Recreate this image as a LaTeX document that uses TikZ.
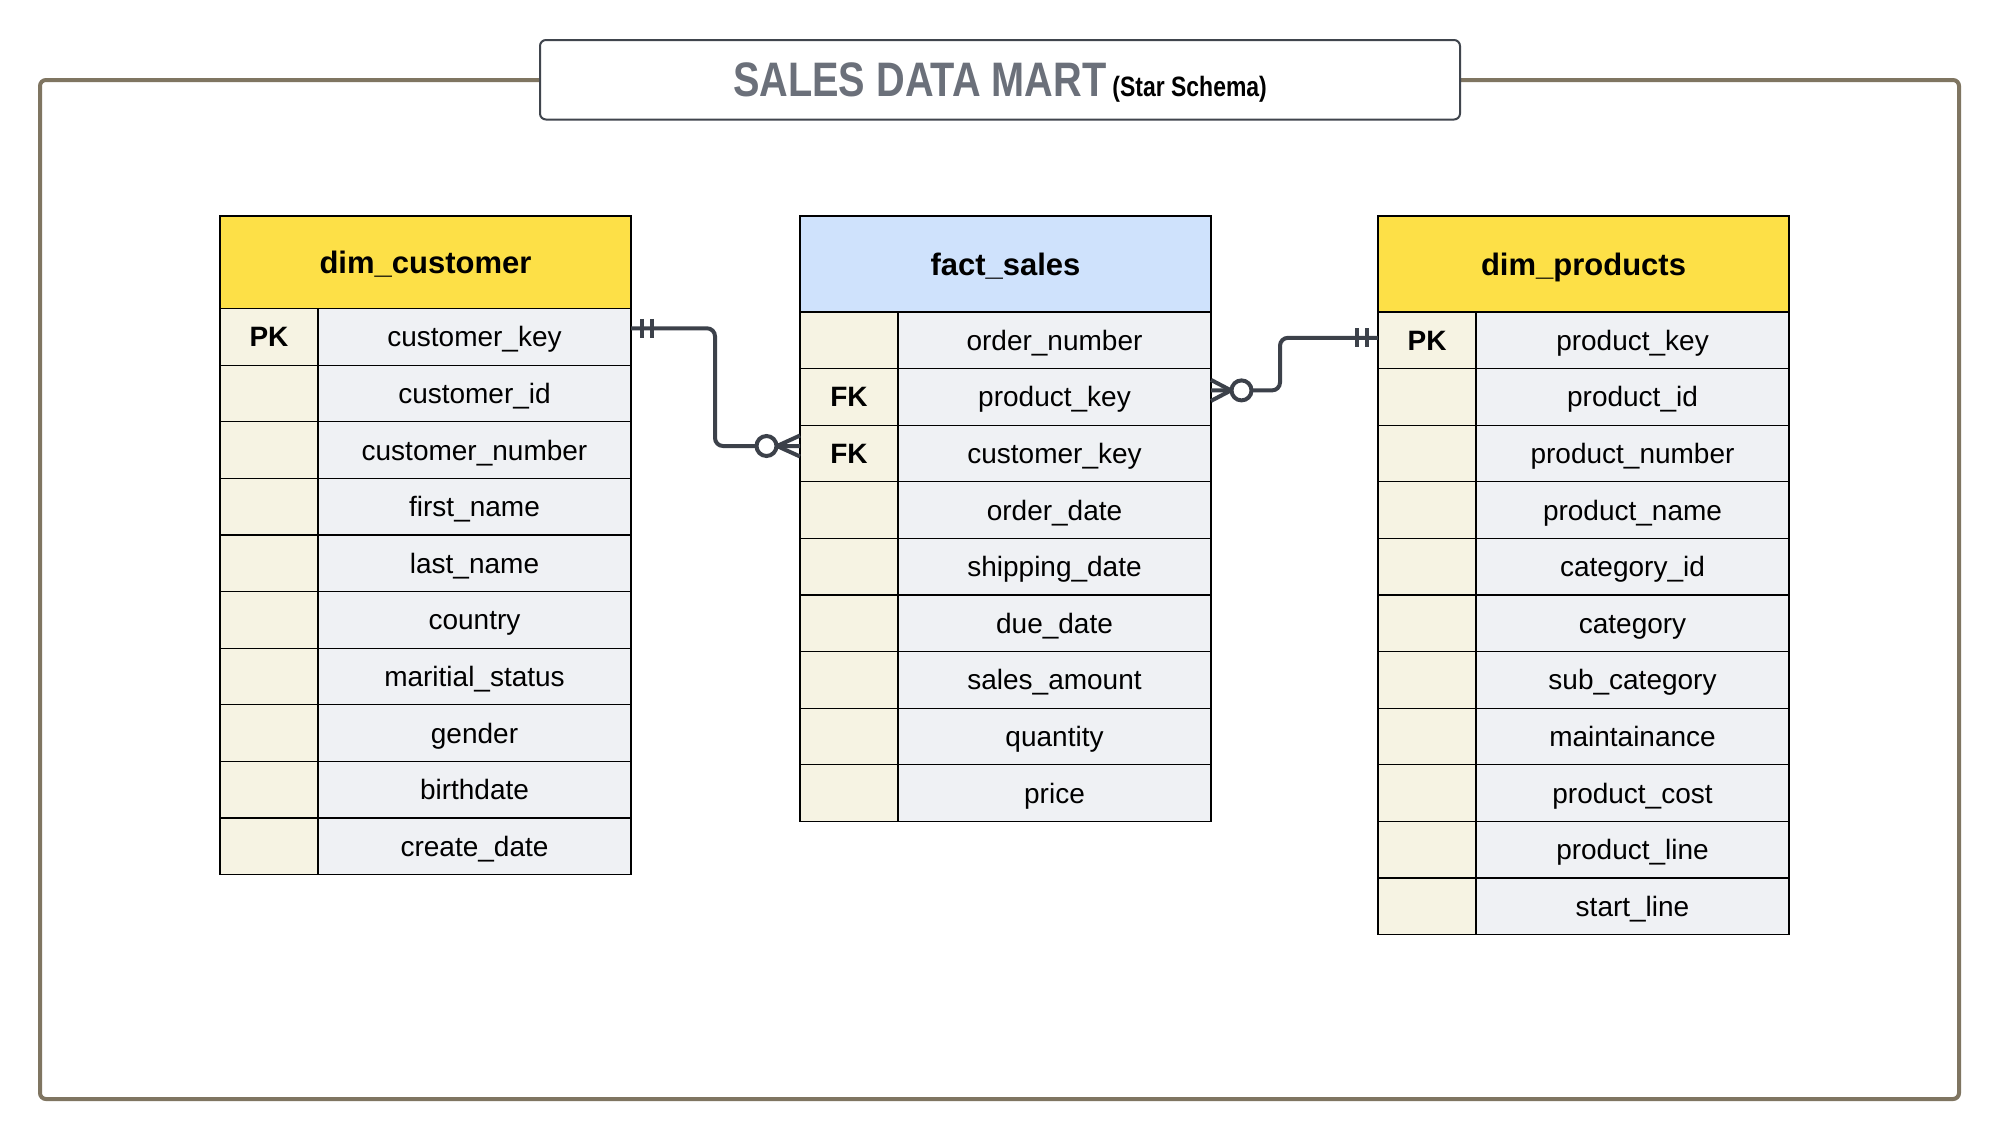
\documentclass[tikz,border=0pt]{standalone}
\usepackage{fontspec}
\setmainfont{Liberation Sans}
\newfontfamily\condfont[FakeStretch=0.82]{Liberation Sans}
\usetikzlibrary{calc}
\definecolor{frameC}{HTML}{7F7561}
\definecolor{titleB}{HTML}{40454D}
\definecolor{titleT}{HTML}{6B707A}
\definecolor{hdrY}{HTML}{FDE047}
\definecolor{hdrB}{HTML}{CFE2FC}
\definecolor{keyC}{HTML}{F6F3E3}
\definecolor{fldC}{HTML}{EFF1F4}
\definecolor{connC}{HTML}{3C414A}
\begin{document}
\begin{tikzpicture}[x=0.5pt,y=-0.5pt,
  tcell/.style={draw=black, line width=0.6pt, inner sep=0pt, outer sep=0pt, anchor=north west,
    text height=10pt, text depth=0pt, font=\fontsize{14}{17}\selectfont, text=black},
  keycell/.style={tcell, fill=keyC, minimum width=49pt, font=\bfseries\fontsize{14}{17}\selectfont},
  fldcell/.style={tcell, fill=fldC, minimum width=156.5pt},
  hdrcell/.style={tcell, minimum width=205.5pt, text height=11.2pt, font=\bfseries\fontsize{15.5}{18}\selectfont},
  conn/.style={draw=connC, line width=2pt},
  framebox/.style={draw=frameC, line width=2pt, rounded corners=3pt},
  titlebox/.style={draw=titleB, line width=1pt, fill=white, rounded corners=3pt, inner sep=0pt, outer sep=0pt}
]
\useasboundingbox (0,0) rectangle (2000,1140);
\fill[white] (0,0) rectangle (2000,1140);

% outer frame
\draw[framebox] (40,80) rectangle (1959,1099);
% title
\node[titlebox, minimum width=460pt, minimum height=39.75pt] (title) at (1000,79.75) {};
\node[anchor=base, inner sep=0pt] (titletext) at (1000,96.5)
  {{\condfont\bfseries\fontsize{24.2}{29}\selectfont\color{titleT}SALES DATA MART}\hspace{3pt}{\condfont\bfseries\fontsize{14}{17}\selectfont (Star Schema)}};

% dim_customer
\node[hdrcell, fill=hdrY, minimum height=46.25pt] (cust-h) at (220,216) {dim\_customer};
\foreach [count=\i] \k/\f in {PK/customer\_key, /customer\_id, /customer\_number, /first\_name, /last\_name, /country, /maritial\_status, /gender, /birthdate, /create\_date}{
  \node[keycell, minimum height=28.3pt] (cust-k-\i) at (220,{308.5+(\i-1)*56.6}) {\k};
  \node[fldcell, minimum height=28.3pt] (cust-f-\i) at (318,{308.5+(\i-1)*56.6}) {\f};
}

% fact_sales
\node[hdrcell, fill=hdrB, minimum height=48pt] (fact-h) at (800,216) {fact\_sales};
\foreach [count=\i] \k/\f in {/order\_number, FK/product\_key, FK/customer\_key, /order\_date, /shipping\_date, /due\_date, /sales\_amount, /quantity, /price}{
  \node[keycell, minimum height=28.3pt] (fact-k-\i) at (800,{312+(\i-1)*56.6}) {\k};
  \node[fldcell, minimum height=28.3pt] (fact-f-\i) at (898,{312+(\i-1)*56.6}) {\f};
}

% dim_products
\node[hdrcell, fill=hdrY, minimum height=48pt] (prod-h) at (1378,216) {dim\_products};
\foreach [count=\i] \k/\f in {PK/product\_key, /product\_id, /product\_number, /product\_name, /category\_id, /category, /sub\_category, /maintainance, /product\_cost, /product\_line, /start\_line}{
  \node[keycell, minimum height=28.3pt] (prod-k-\i) at (1378,{312+(\i-1)*56.6}) {\k};
  \node[fldcell, minimum height=28.3pt] (prod-f-\i) at (1476,{312+(\i-1)*56.6}) {\f};
}

% connector: dim_customer -> fact_sales
\coordinate (L0) at ([yshift=4.25pt]cust-f-1.east);
\coordinate (R0) at ([yshift=3.75pt]fact-k-3.west);
\coordinate (M0) at (715,0);
\draw[conn, rounded corners=4pt] (L0) -- (L0 -| M0) -- (M0 |- R0) -- (R0);
\draw[conn] ($(L0)+(10.5,-9.5)$) -- ($(L0)+(10.5,9.5)$);
\draw[conn] ($(L0)+(20.5,-9.5)$) -- ($(L0)+(20.5,9.5)$);
\draw[conn] ($(R0)+(0,-10.5)$) -- ($(R0)+(-23,0)$) -- ($(R0)+(0,10.5)$);
\draw[conn, fill=white] ($(R0)+(-33.5,0)$) circle[radius=5pt];

% connector: fact_sales -> dim_products
\coordinate (L1) at ([yshift=3.25pt]fact-f-2.east);
\coordinate (R1) at ([yshift=1.25pt]prod-k-1.west);
\coordinate (M1) at (1280,0);
\draw[conn, rounded corners=4pt] (L1) -- (L1 -| M1) -- (M1 |- R1) -- (R1);
\draw[conn] ($(L1)+(0,-10.5)$) -- ($(L1)+(20,0)$) -- ($(L1)+(0,10.5)$);
\draw[conn, fill=white] ($(L1)+(30.5,0)$) circle[radius=5pt];
\draw[conn] ($(R1)+(-21,-9.5)$) -- ($(R1)+(-21,9.5)$);
\draw[conn] ($(R1)+(-11,-9.5)$) -- ($(R1)+(-11,9.5)$);
\end{tikzpicture}
\end{document}
